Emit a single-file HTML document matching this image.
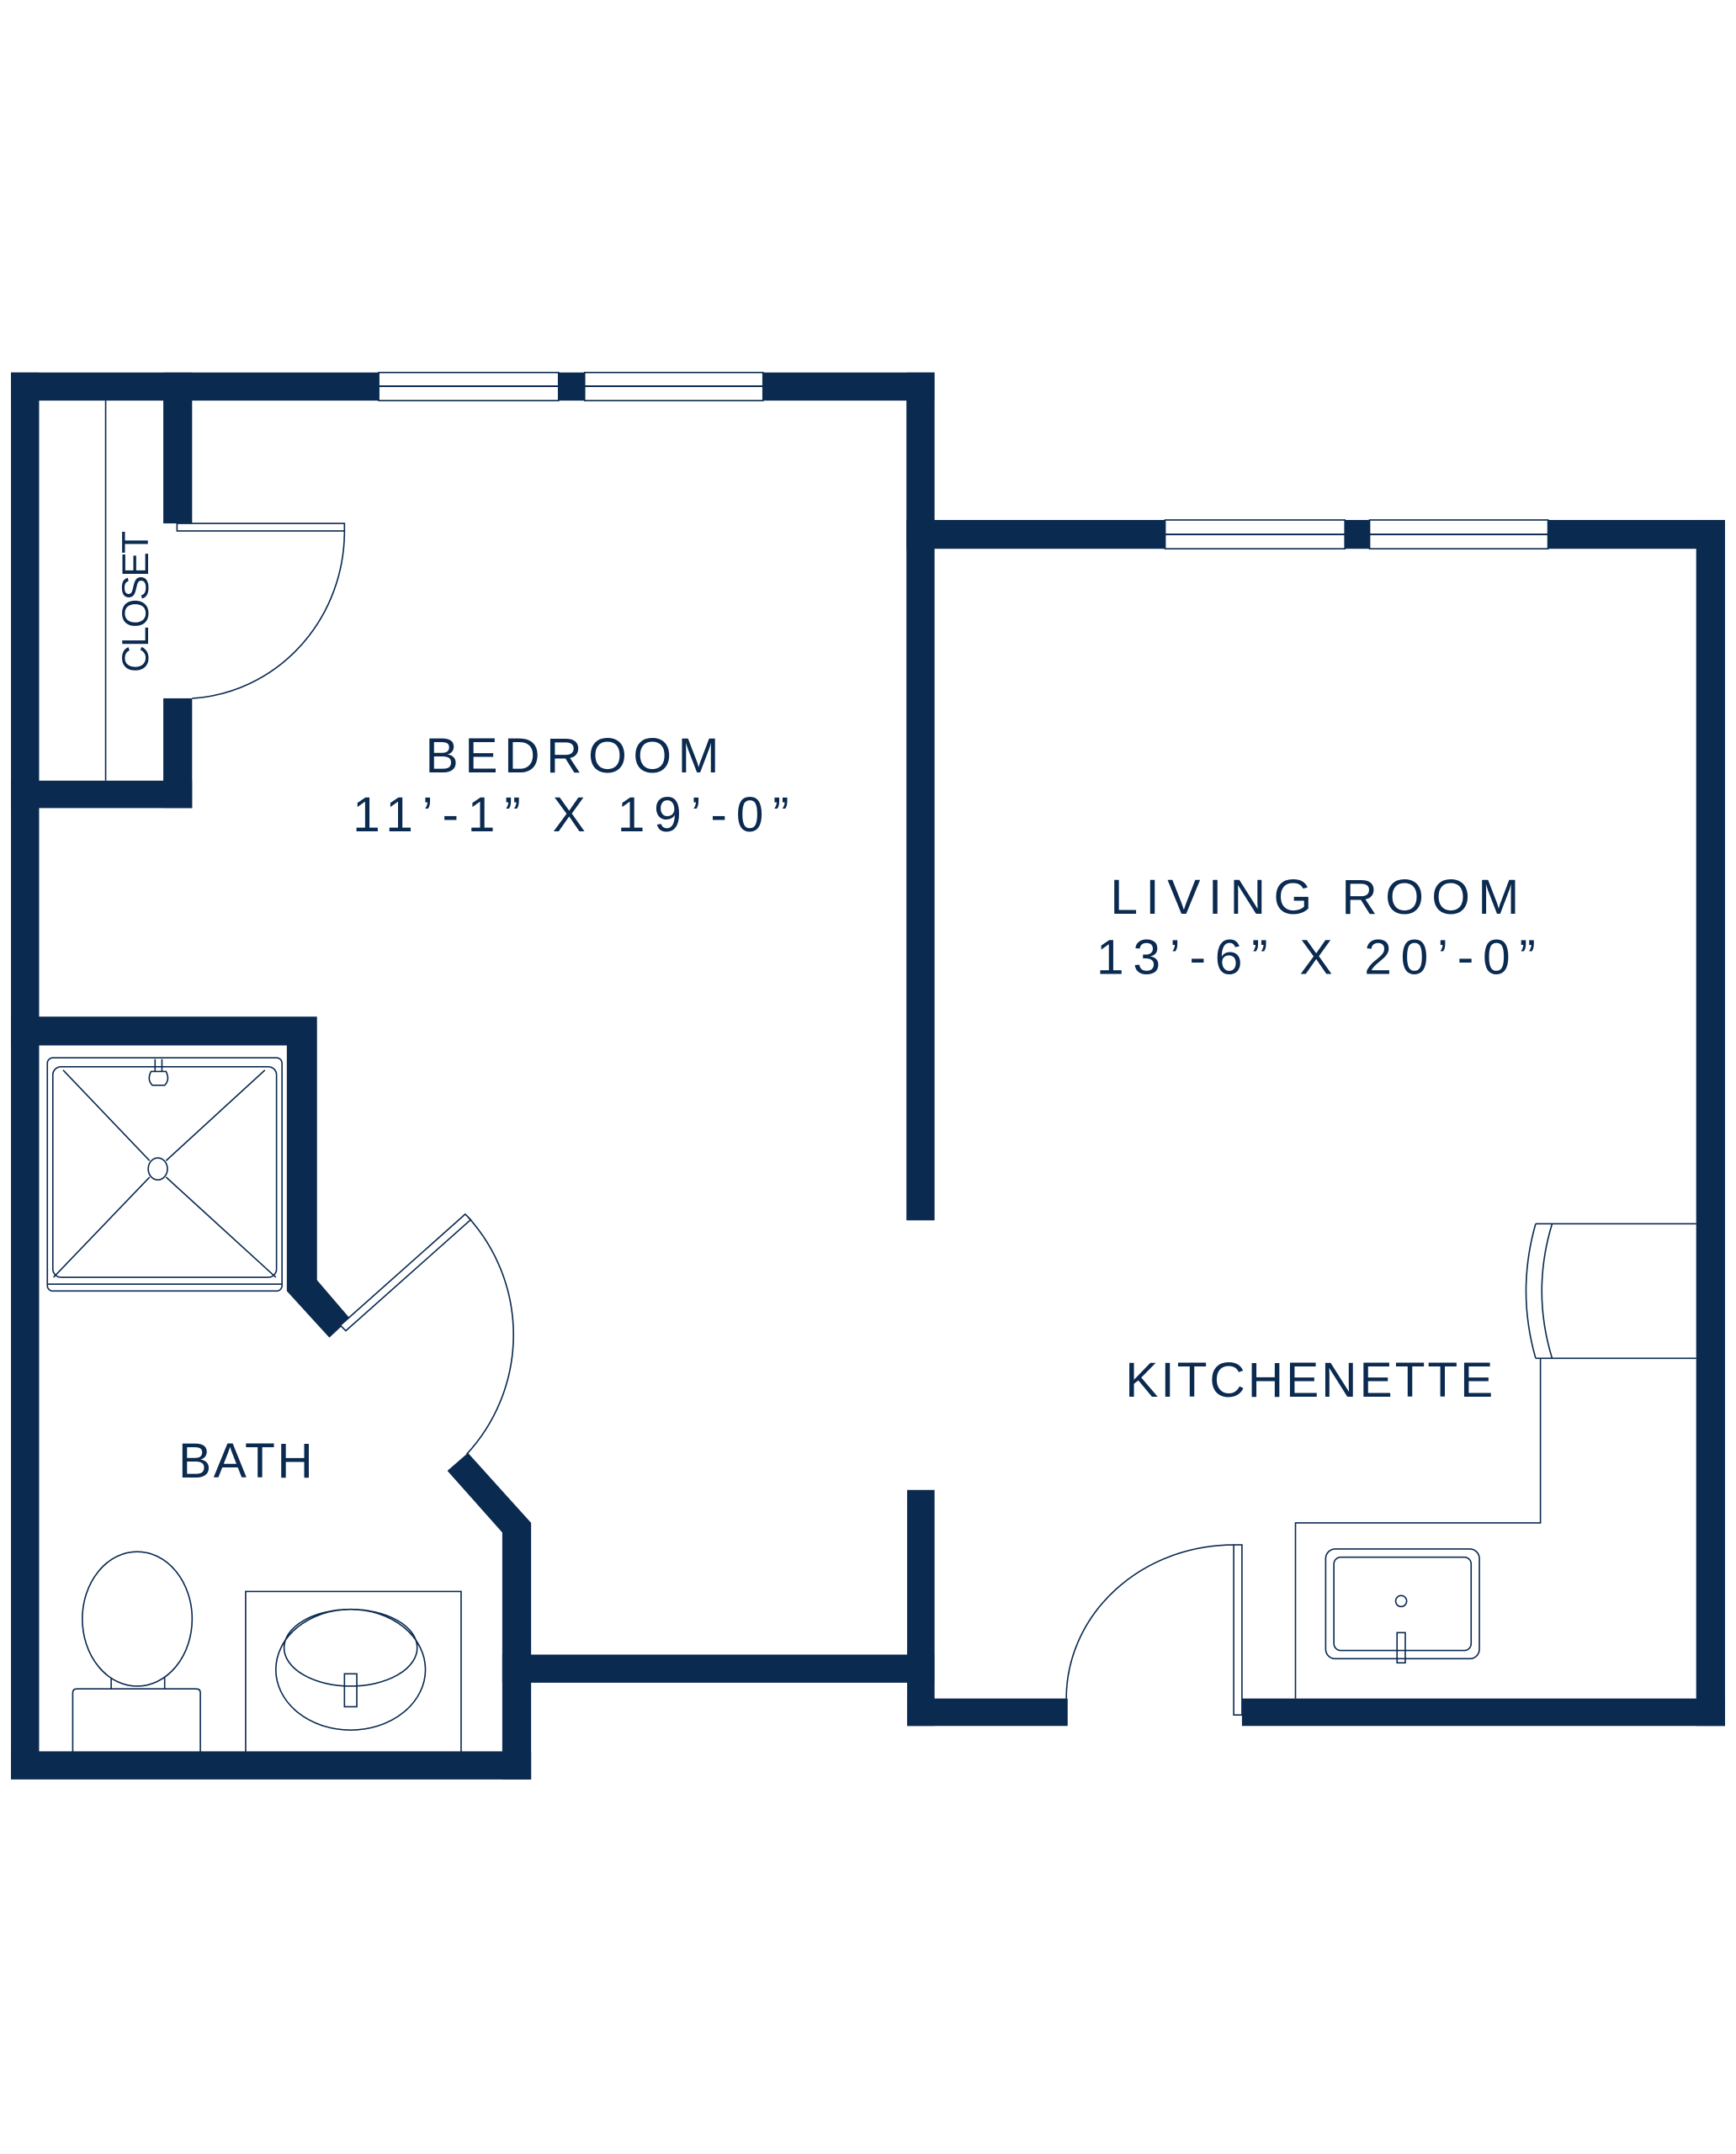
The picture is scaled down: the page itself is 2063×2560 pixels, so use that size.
<!DOCTYPE html>
<html><head><meta charset="utf-8"><style>
html,body{margin:0;padding:0;background:#fff;}
svg{display:block;}
text{font-family:"Liberation Sans",sans-serif;fill:#0b2a50;}
</style></head><body>
<svg width="2063" height="2560" viewBox="0 0 1265 1570" preserveAspectRatio="none" xmlns="http://www.w3.org/2000/svg">
<rect width="1265" height="1570" fill="#fff"/>
<g fill="#0b2a50">
<!-- bedroom top wall -->
<rect x="8" y="271.5" width="673" height="20.5"/>
<!-- left wall -->
<rect x="8" y="271.5" width="20.5" height="1025"/>
<!-- bedroom right wall -->
<rect x="660.5" y="271.5" width="20.5" height="618"/>
<!-- living top wall -->
<rect x="660.5" y="379" width="596" height="21"/>
<!-- right wall -->
<rect x="1236" y="379" width="21" height="879"/>
<!-- bottom living -->
<rect x="905" y="1238" width="352" height="20"/>
<rect x="661" y="1238" width="117" height="20"/>
<rect x="661" y="1086" width="20" height="172"/>
<!-- bedroom bottom wall -->
<rect x="366" y="1206" width="315" height="20.5"/>
<!-- bath bottom -->
<rect x="8" y="1276.5" width="379" height="20.5"/>
<!-- bath right lower wall with diagonal -->
<polygon points="326,1072 341,1059 387,1110 387,1297 366,1297 366,1117"/>
<!-- bath top + right upper wall with diagonal -->
<polygon points="8,741 231,741 231,933 255,961 240,975 209,941 209,762 8,762"/>
<!-- closet walls -->
<rect x="119" y="271.5" width="21" height="110"/>
<rect x="119" y="509" width="21" height="80"/>
<rect x="8" y="569" width="132" height="20"/>
</g>
<!-- windows -->
<g fill="#fff" stroke="#0b2a50" stroke-width="1">
<rect x="276" y="271.5" width="131" height="20.5"/>
<rect x="426" y="271.5" width="130" height="20.5"/>
<rect x="849" y="379" width="131" height="21"/>
<rect x="998" y="379" width="130" height="21"/>
</g>
<g stroke="#0b2a50" stroke-width="1.2" fill="none">
<line x1="276" y1="281.5" x2="407" y2="281.5"/>
<line x1="426" y1="281.5" x2="556" y2="281.5"/>
<line x1="849" y1="389.5" x2="980" y2="389.5"/>
<line x1="998" y1="389.5" x2="1128" y2="389.5"/>
</g>
<g stroke="#0b2a50" stroke-width="1" fill="none">
<!-- closet rod -->
<line x1="77" y1="292" x2="77" y2="569"/>
<!-- closet door -->
<rect x="129" y="381.5" width="122" height="5.5" fill="#fff"/>
<path d="M251,387 A118,122 0 0 1 140,509"/>
<!-- shower -->
<rect x="34.5" y="771" width="171" height="170" rx="4"/>
<rect x="38.5" y="777.5" width="163" height="153.5" rx="6"/>
<line x1="34.5" y1="936" x2="205.5" y2="936"/>
<line x1="46" y1="780" x2="109" y2="846"/>
<line x1="193" y1="780" x2="121" y2="846"/>
<line x1="39" y1="931" x2="109" y2="858"/>
<line x1="201" y1="931" x2="121" y2="858"/>
<ellipse cx="115" cy="852" rx="7" ry="8"/>
<line x1="113" y1="772" x2="113" y2="781"/><line x1="118" y1="772" x2="118" y2="781"/>
<path d="M110,781 h11 q3,6 -1,10 h-9 q-4,-4 -1,-10z"/>
<!-- bath door -->
<polygon points="248,966 339,885 343,889 252,970" fill="#fff"/>
<path d="M341,887 A128,128 0 0 1 340,1060"/>
<!-- toilet -->
<path d="M53,1277 V1234 q0,-3 3,-3 H143 q3,0 3,3 V1277"/>
<line x1="81" y1="1218" x2="81" y2="1231"/><line x1="120" y1="1218" x2="120" y2="1231"/>
<ellipse cx="100" cy="1180" rx="40" ry="49" fill="#fff"/>
<!-- vanity -->
<path d="M179,1277 V1160 H336 V1277"/>
<ellipse cx="255.5" cy="1217" rx="54.5" ry="44"/>
<ellipse cx="255.5" cy="1201" rx="48.5" ry="28"/>
<rect x="251" y="1220" width="9" height="24"/>
<!-- fridge -->
<line x1="1119" y1="892" x2="1236" y2="892"/>
<line x1="1119" y1="990" x2="1236" y2="990"/>
<path d="M1119,892 Q1105,941 1119,990"/>
<path d="M1131,892 Q1116,941 1131,990"/>
<!-- counter -->
<path d="M1122.5,990 V1110 H944 V1238"/>
<!-- sink -->
<rect x="966" y="1129" width="112" height="80" rx="7"/>
<rect x="972" y="1135" width="100" height="68" rx="5"/>
<circle cx="1021" cy="1167" r="4"/>
<rect x="1018" y="1190" width="6" height="22"/>
<!-- entry door -->
<rect x="899" y="1126" width="6" height="124" fill="#fff"/>
<path d="M899,1126 A122,112 0 0 0 777,1238"/>
</g>
<!-- labels -->
<text x="310" y="563" font-size="36" textLength="214" lengthAdjust="spacing">BEDROOM</text>
<text x="257" y="606" font-size="36" textLength="318" lengthAdjust="spacing">11’-1” X 19’-0”</text>
<text x="809" y="666" font-size="36" textLength="298" lengthAdjust="spacing">LIVING ROOM</text>
<text x="799" y="710" font-size="36" textLength="320" lengthAdjust="spacing">13’-6” X 20’-0”</text>
<text x="820" y="1018" font-size="36" textLength="268" lengthAdjust="spacing">KITCHENETTE</text>
<text x="130" y="1077" font-size="36" textLength="98" lengthAdjust="spacing">BATH</text>
<text transform="translate(108,490) rotate(-90)" font-size="27" textLength="103" lengthAdjust="spacing">CLOSET</text>
</svg>
</body></html>
